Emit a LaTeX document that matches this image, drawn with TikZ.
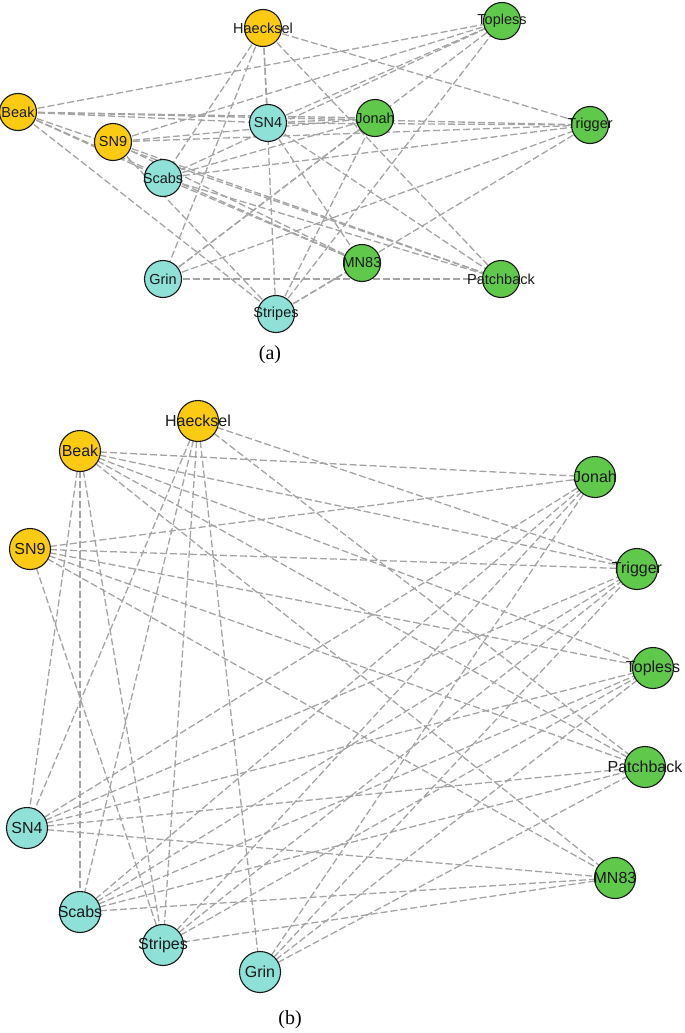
\documentclass[tikz,border=0pt]{standalone}
\usepackage{fontspec}
\setmainfont{Liberation Serif}
\newfontfamily\arialfont{Liberation Sans}
\usetikzlibrary{backgrounds}
\definecolor{cyel}{HTML}{FBCB14}
\definecolor{ccya}{HTML}{8FE1D8}
\definecolor{cgrn}{HTML}{60C94C}
\definecolor{cedge}{HTML}{A4A4A4}
\tikzset{
  dnode/.style={circle, draw=black!90, line width=1.1pt, inner sep=0pt},
  anode/.style={dnode, minimum size=37pt},
  bnode/.style={dnode, minimum size=41pt},
  alabel/.style={font=\arialfont\fontsize{14.5}{16}\selectfont, inner sep=0pt, text=black!90},
  blabel/.style={font=\arialfont\fontsize{16}{18}\selectfont, inner sep=0pt, text=black!90},
  edge/.style={draw=cedge, line width=1.3pt, dash pattern=on 7pt off 3pt},
  capt/.style={font=\fontsize{20}{22}\selectfont, inner sep=0pt}
}
\begin{document}
\begin{tikzpicture}[x=1pt,y=-1pt]
\useasboundingbox (0,0) rectangle (685,1033);
% ---------- panel (a) ----------
\foreach \n/\x/\y/\c/\t in {Ha/263/28/cyel/Haecksel, Be/18/112/cyel/Beak, S9/113/142/cyel/SN9,
  S4/268/123/ccya/SN4, Sc/163/178/ccya/Scabs, Gr/163/279/ccya/Grin, St/276/314/ccya/Stripes,
  Jo/375/118/cgrn/Jonah, Tr/590/125/cgrn/Trigger, To/502/21/cgrn/Topless, Pa/501/279/cgrn/Patchback, MN/362/263/cgrn/MN83}{
  \node[anode, fill=\c] (a\n) at (\x,\y) {};
  \node[alabel] (a\n-t) at (\x,\y) {\t};
}
% ---------- panel (b) ----------
\foreach \n/\x/\y/\c/\t in {Ha/198/421/cyel/Haecksel, Be/80/451/cyel/Beak, S9/30/549/cyel/SN9,
  S4/27/828/ccya/SN4, Sc/80/912/ccya/Scabs, St/163/945/ccya/Stripes, Gr/260/972/ccya/Grin,
  Jo/595/477/cgrn/Jonah, Tr/637/569/cgrn/Trigger, To/653/668/cgrn/Topless, Pa/645/767/cgrn/Patchback, MN/615/878/cgrn/MN83}{
  \node[bnode, fill=\c] (b\n) at (\x,\y) {};
  \node[blabel] (b\n-t) at (\x,\y) {\t};
}
% ---------- edges ----------
\begin{scope}[on background layer]
\foreach \p in {a,b}{
  \foreach \u/\v in {Ha/S4, Ha/Sc, Ha/St, Ha/Gr, Ha/Tr, Ha/Pa,
    Be/S4, Be/Sc, Be/St, Be/Jo, Be/Tr, Be/To, Be/Pa, Be/MN,
    S9/St, S9/Jo, S9/Tr, S9/To, S9/Pa, S9/MN,
    S4/Jo, S4/Tr, S4/To, S4/Pa, S4/MN,
    Sc/Jo, Sc/Tr, Sc/To, Sc/Pa, Sc/MN,
    St/Jo, St/Tr, St/To, St/MN,
    Gr/Jo, Gr/Tr, Gr/To, Gr/Pa}{
    \draw[edge] (\p\u.center) -- (\p\v.center);
  }
}
\end{scope}
\node[capt] (capa) at (270,355) {(a)};
\node[capt] (capb) at (290,1020) {(b)};
\end{tikzpicture}
\end{document}
